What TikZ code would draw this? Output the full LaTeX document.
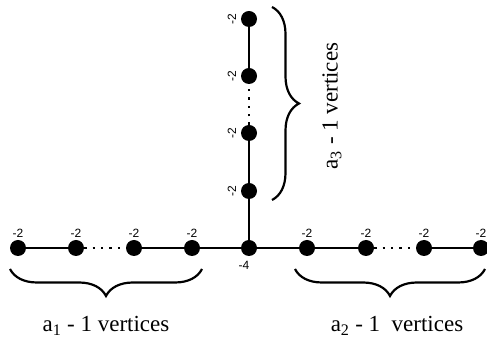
\documentclass[tikz,border=0pt]{standalone}
\usepackage{fontspec}
\setmainfont{Liberation Serif}
\newfontfamily\labfont{Liberation Sans}
\usetikzlibrary{decorations.pathreplacing}
\begin{document}
\begin{tikzpicture}[x=1pt,y=1pt,
  vtx/.style={circle,fill=black,inner sep=0pt,minimum size=16pt},
  edge/.style={line width=2pt},
  dotedge/.style={line width=2.4pt,dash pattern=on 2.4pt off 6pt},
  lab/.style={font=\labfont\fontsize{12}{12}\selectfont,inner sep=0pt},
  bigbrace/.style={decorate,decoration={brace,amplitude=27pt},line width=2.2pt},
  caption/.style={font=\fontsize{23}{25}\selectfont,inner sep=0pt}]
\useasboundingbox (0,0) rectangle (487,342);
% horizontal chain
\node[vtx] (h1) at (18,94) {};
\node[vtx] (h2) at (76,94) {};
\node[vtx] (h3) at (134,94) {};
\node[vtx] (h4) at (192,94) {};
\node[vtx] (c) at (249,94) {};
\node[vtx] (h5) at (307,94) {};
\node[vtx] (h6) at (366,94) {};
\node[vtx] (h7) at (424,94) {};
\node[vtx] (h8) at (481,94) {};
% vertical chain
\node[vtx] (v4) at (249,151) {};
\node[vtx] (v3) at (249,209) {};
\node[vtx] (v2) at (249,266) {};
\node[vtx] (v1) at (249,323) {};
% edges
\draw[edge] (h1) -- (h2);
\draw[dotedge] (h2) -- (h3);
\draw[edge] (h3) -- (h4);
\draw[edge] (h4) -- (c);
\draw[edge] (c) -- (h5);
\draw[edge] (h5) -- (h6);
\draw[dotedge] (h6) -- (h7);
\draw[edge] (h7) -- (h8);
\draw[edge] (c) -- (v4);
\draw[edge] (v4) -- (v3);
\draw[dotedge] (v3) -- (v2);
\draw[edge] (v2) -- (v1);
% labels
\foreach \n in {h1,h2,h3,h4,h5,h6,h7,h8}
  \node[lab] at ([yshift=15pt]\n.center) {-2};
\foreach \n in {v1,v2,v3,v4}
  \node[lab,rotate=90] at ([xshift=-17pt]\n.center) {-2};
\node[lab] (m4) at ([xshift=-5pt,yshift=-17pt]c.center) {-4};
% braces
\coordinate (lbA) at (202,73);
\coordinate (lbB) at (10,73);
\coordinate (rbA) at (485,73);
\coordinate (rbB) at (295,73);
\coordinate (vbA) at (272,335);
\coordinate (vbB) at (272,142);
\draw[bigbrace] (lbA) -- (lbB);
\draw[bigbrace] (rbA) -- (rbB);
\draw[bigbrace] (vbA) -- (vbB);
% captions
\node[caption] (t1) at (106,16) {a$_{\mathrm{1}}$ - 1 vertices};
\node[caption] (t2) at (397,16) {a$_{\mathrm{2}}$ - 1\ \ vertices};
\node[caption,rotate=90] (t3) at (332,236) {a$_{\mathrm{3}}$ - 1 vertices};
\end{tikzpicture}
\end{document}
